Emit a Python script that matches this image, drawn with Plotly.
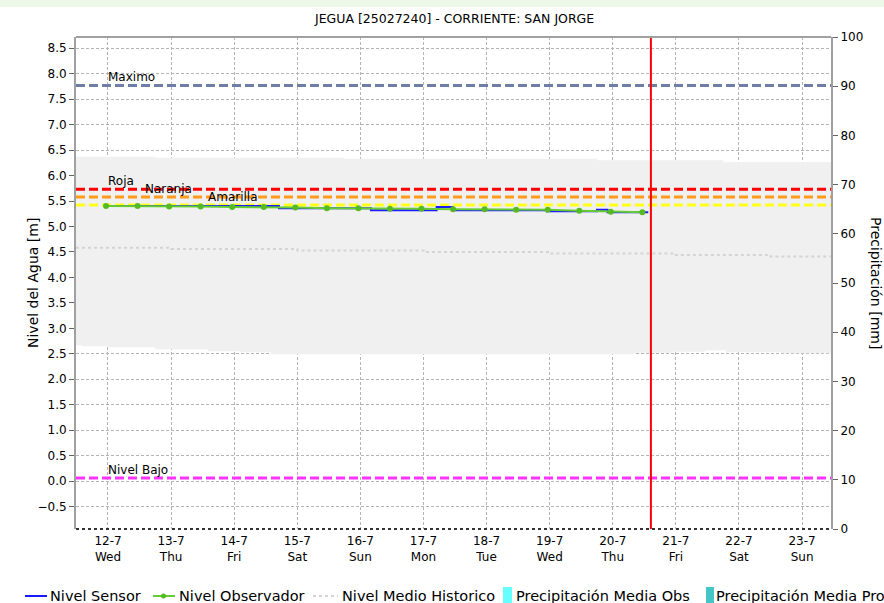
import plotly.graph_objects as go

# ---------------- data ----------------
title_text = "JEGUA [25027240] - CORRIENTE: SAN JORGE"

tick_dates = ["2023-07-12", "2023-07-13", "2023-07-14", "2023-07-15", "2023-07-16", "2023-07-17",
              "2023-07-18", "2023-07-19", "2023-07-20", "2023-07-21", "2023-07-22", "2023-07-23"]
tick_labels = ["12-7<br>Wed", "13-7<br>Thu", "14-7<br>Fri", "15-7<br>Sat", "16-7<br>Sun", "17-7<br>Mon",
               "18-7<br>Tue", "19-7<br>Wed", "20-7<br>Thu", "21-7<br>Fri", "22-7<br>Sat", "23-7<br>Sun"]

x_start = "2023-07-11 11:50"
x_end = "2023-07-23 11:00"
now_time = "2023-07-20 14:30"

# historical band (upper / lower envelope), step values
band_top_x = ["2023-07-11 11:50", "2023-07-12 18:00", "2023-07-15 18:00", "2023-07-19 18:00",
              "2023-07-21 18:00", "2023-07-23 11:00"]
band_top_y = [6.37, 6.35, 6.33, 6.30, 6.26, 6.26]
band_bot_x = ["2023-07-11 11:50", "2023-07-11 14:00", "2023-07-12 00:00", "2023-07-12 18:00",
              "2023-07-13 14:00", "2023-07-14 02:00", "2023-07-14 14:00", "2023-07-20 08:00",
              "2023-07-20 23:00", "2023-07-21 11:00", "2023-07-21 19:00", "2023-07-22 16:00",
              "2023-07-23 11:00"]
band_bot_y = [2.67, 2.65, 2.63, 2.59, 2.55, 2.53, 2.49, 2.52, 2.54, 2.57, 2.53, 2.51, 2.51]

# historical mean level
hist_x = ["2023-07-11 11:50", "2023-07-13 00:00", "2023-07-15 00:00", "2023-07-17 00:00",
          "2023-07-19 00:00", "2023-07-21 00:00", "2023-07-22 12:00", "2023-07-23 11:00"]
hist_y = [4.58, 4.56, 4.53, 4.50, 4.47, 4.44, 4.41, 4.41]

# sensor level (step changes)
sensor_x = ["2023-07-12 00:00", "2023-07-14 17:00", "2023-07-16 04:00", "2023-07-17 05:00",
            "2023-07-17 11:00", "2023-07-18 23:00", "2023-07-19 18:00", "2023-07-19 22:00",
            "2023-07-20 13:30"]
sensor_y = [5.40, 5.36, 5.32, 5.38, 5.32, 5.30, 5.33, 5.28, 5.28]

# observed level (twice a day)
obs_x = ["2023-07-11 23:15", "2023-07-12 11:15", "2023-07-12 23:15", "2023-07-13 11:15",
         "2023-07-13 23:15", "2023-07-14 11:15", "2023-07-14 23:15", "2023-07-15 11:15",
         "2023-07-15 23:15", "2023-07-16 11:15", "2023-07-16 23:15", "2023-07-17 11:15",
         "2023-07-17 23:15", "2023-07-18 11:15", "2023-07-18 23:15", "2023-07-19 11:15",
         "2023-07-19 23:15", "2023-07-20 11:15"]
obs_y = [5.40, 5.40, 5.39, 5.39, 5.38, 5.38, 5.37, 5.36, 5.36, 5.35, 5.35, 5.34,
         5.34, 5.33, 5.33, 5.31, 5.29, 5.28]

# threshold levels
thr_names = ["Maximo", "Roja", "Naranja", "Amarilla", "Nivel Bajo"]
thr_values = [7.77, 5.73, 5.58, 5.42, 0.06]
thr_colors = ["#6f7ea6", "#ff0000", "#ff9a1a", "#ffff1a", "#ff33ff"]
thr_label_x = ["2023-07-12 00:00", "2023-07-12 00:00", "2023-07-12 14:00", "2023-07-13 14:00",
               "2023-07-12 00:00"]

legend_names = ["Nivel Sensor", "Nivel Observador", "Nivel Medio Historico",
                "Precipitación Media Obs", "Precipitación Media Pro"]

# ---------------- figure ----------------
W, H = 884, 603
ML, MR, MT, MB = 76, 53, 37, 74
PW, PH = W - ML - MR, H - MT - MB


def px(xp):
    return (xp - ML) / PW


def py(yp):
    return (H - MB - yp) / PH


FONT = "DejaVu Sans"

fig = go.Figure()

# precipitation (no data) on right axis
fig.add_trace(go.Bar(x=[], y=[], yaxis="y2", marker_color="#66ffff", showlegend=False))
fig.add_trace(go.Bar(x=[], y=[], yaxis="y2", marker_color="#44c6c6", showlegend=False))

# band
fig.add_trace(go.Scatter(x=band_bot_x, y=band_bot_y, mode="lines", line=dict(width=0, shape="hv"),
                         showlegend=False, hoverinfo="skip"))
fig.add_trace(go.Scatter(x=band_top_x, y=band_top_y, mode="lines", line=dict(width=0, shape="hv"),
                         fill="tonexty", fillcolor="#f0f0f0", showlegend=False, hoverinfo="skip"))

# historical mean
fig.add_trace(go.Scatter(x=hist_x, y=hist_y, mode="lines",
                         line=dict(color="#d4d4d4", width=2, dash="3px,3px", shape="hv"),
                         showlegend=False))

# threshold lines
for name, val, col in zip(thr_names, thr_values, thr_colors):
    fig.add_trace(go.Scatter(x=[x_start, x_end], y=[val, val], mode="lines",
                             line=dict(color=col, width=3, dash="9px,4px"), showlegend=False))

# sensor
fig.add_trace(go.Scatter(x=sensor_x, y=sensor_y, mode="lines",
                         line=dict(color="#1a1aff", width=2, shape="hv"), showlegend=False))
# observed
fig.add_trace(go.Scatter(x=obs_x, y=obs_y, mode="lines+markers",
                         line=dict(color="#66cc33", width=2),
                         marker=dict(color="#55bb22", size=6, symbol="circle"), showlegend=False))

shapes = []
annotations = []

# current time red line
shapes.append(dict(type="line", xref="x", yref="paper", x0=now_time, x1=now_time, y0=0, y1=1,
                   line=dict(color="#ff0000", width=2)))
# frame
shapes.append(dict(type="line", xref="paper", yref="paper", x0=0, x1=1, y0=1, y1=1,
                   line=dict(color="#a0a0a0", width=2)))
shapes.append(dict(type="line", xref="paper", yref="paper", x0=0, x1=1, y0=0, y1=0,
                   line=dict(color="#333333", width=2, dash="dot")))
# top light strip
shapes.append(dict(type="rect", xref="paper", yref="paper", x0=px(0), x1=px(W), y0=py(7), y1=py(0),
                   fillcolor="#eef8e8", line=dict(width=0), layer="below"))

# threshold labels
for name, val, lx in zip(thr_names, thr_values, thr_label_x):
    annotations.append(dict(x=lx, y=val, xref="x", yref="y", text=name, showarrow=False,
                            xanchor="left", yanchor="middle", yshift=8, xshift=-2,
                            font=dict(family=FONT, size=12, color="#000")))

# title
annotations.append(dict(x=0.5, y=py(18), xref="paper", yref="paper", text=title_text,
                        showarrow=False, xanchor="center", yanchor="middle",
                        font=dict(family=FONT, size=12.5, color="#000")))
# left axis title
annotations.append(dict(x=px(33), y=0.5, xref="paper", yref="paper", text="Nivel del Agua [m]",
                        showarrow=False, textangle=-90, xanchor="center", yanchor="middle",
                        font=dict(family=FONT, size=14, color="#000")))
# right axis title
annotations.append(dict(x=px(876), y=0.5, xref="paper", yref="paper", text="Precipitación [mm]",
                        showarrow=False, textangle=90, xanchor="center", yanchor="middle",
                        font=dict(family=FONT, size=14, color="#000")))

# manual legend
LY = py(596)
leg_font = dict(family=FONT, size=14.5, color="#000")
# Nivel Sensor
shapes.append(dict(type="line", xref="paper", yref="paper", x0=px(25), x1=px(47), y0=LY, y1=LY,
                   line=dict(color="#1a1aff", width=2)))
annotations.append(dict(x=px(48), y=LY, xref="paper", yref="paper", text=legend_names[0],
                        showarrow=False, xanchor="left", yanchor="middle", font=leg_font))
# Nivel Observador
shapes.append(dict(type="line", xref="paper", yref="paper", x0=px(153), x1=px(175), y0=LY, y1=LY,
                   line=dict(color="#66cc33", width=2)))
shapes.append(dict(type="circle", xref="paper", yref="paper", x0=px(161), x1=px(166),
                   y0=py(598.5), y1=py(593.5), fillcolor="#55bb22", line=dict(width=0)))
annotations.append(dict(x=px(177), y=LY, xref="paper", yref="paper", text=legend_names[1],
                        showarrow=False, xanchor="left", yanchor="middle", font=leg_font))
# Nivel Medio Historico
shapes.append(dict(type="line", xref="paper", yref="paper", x0=px(313), x1=px(338), y0=LY, y1=LY,
                   line=dict(color="#d4d4d4", width=2, dash="3px,3px")))
annotations.append(dict(x=px(340), y=LY, xref="paper", yref="paper", text=legend_names[2],
                        showarrow=False, xanchor="left", yanchor="middle", font=leg_font))
# Precipitación Media Obs
shapes.append(dict(type="rect", xref="paper", yref="paper", x0=px(503), x1=px(512),
                   y0=py(603), y1=py(587), fillcolor="#66ffff", line=dict(width=0)))
annotations.append(dict(x=px(514), y=LY, xref="paper", yref="paper", text=legend_names[3],
                        showarrow=False, xanchor="left", yanchor="middle", font=leg_font))
# Precipitación Media Pro
shapes.append(dict(type="rect", xref="paper", yref="paper", x0=px(706), x1=px(714),
                   y0=py(603), y1=py(587), fillcolor="#44c6c6", line=dict(width=0)))
annotations.append(dict(x=px(714), y=LY, xref="paper", yref="paper", text=legend_names[4],
                        showarrow=False, xanchor="left", yanchor="middle", font=leg_font))

grid_common = dict(gridcolor="#b4b4b4", gridwidth=1, griddash="3px,2px")

fig.update_layout(
    width=W, height=H,
    margin=dict(l=ML, r=MR, t=MT, b=MB, pad=0),
    paper_bgcolor="white", plot_bgcolor="white",
    showlegend=False,
    font=dict(family=FONT, size=12, color="#000"),
    xaxis=dict(type="date", range=[x_start, x_end], tickmode="array", tickvals=tick_dates,
               ticktext=tick_labels, showgrid=True, zeroline=False, showline=False, ticks="",
               ticklabelstandoff=3,
               tickfont=dict(family=FONT, size=12, color="#000"), **grid_common),
    yaxis=dict(range=[-0.94, 8.72], tickmode="linear", tick0=0, dtick=0.5, tickformat=".1f",
               showgrid=True, zeroline=False, showline=True, linecolor="#a0a0a0", linewidth=2,
               ticks="outside", ticklen=5, tickcolor="#666", tickwidth=1,
               tickfont=dict(family=FONT, size=12, color="#000"), **grid_common),
    yaxis2=dict(range=[0, 100], overlaying="y", side="right", tickmode="linear", tick0=0, dtick=10,
                showgrid=False, zeroline=False, showline=True, linecolor="#a0a0a0", linewidth=2,
                ticks="outside", ticklen=5, tickcolor="#666", tickwidth=1,
                tickfont=dict(family=FONT, size=12, color="#000")),
    shapes=shapes,
    annotations=annotations,
)

fig.write_html("out.html", config={"displayModeBar": False},
               post_script="document.body.style.margin='0px';document.body.style.overflow='hidden';")
